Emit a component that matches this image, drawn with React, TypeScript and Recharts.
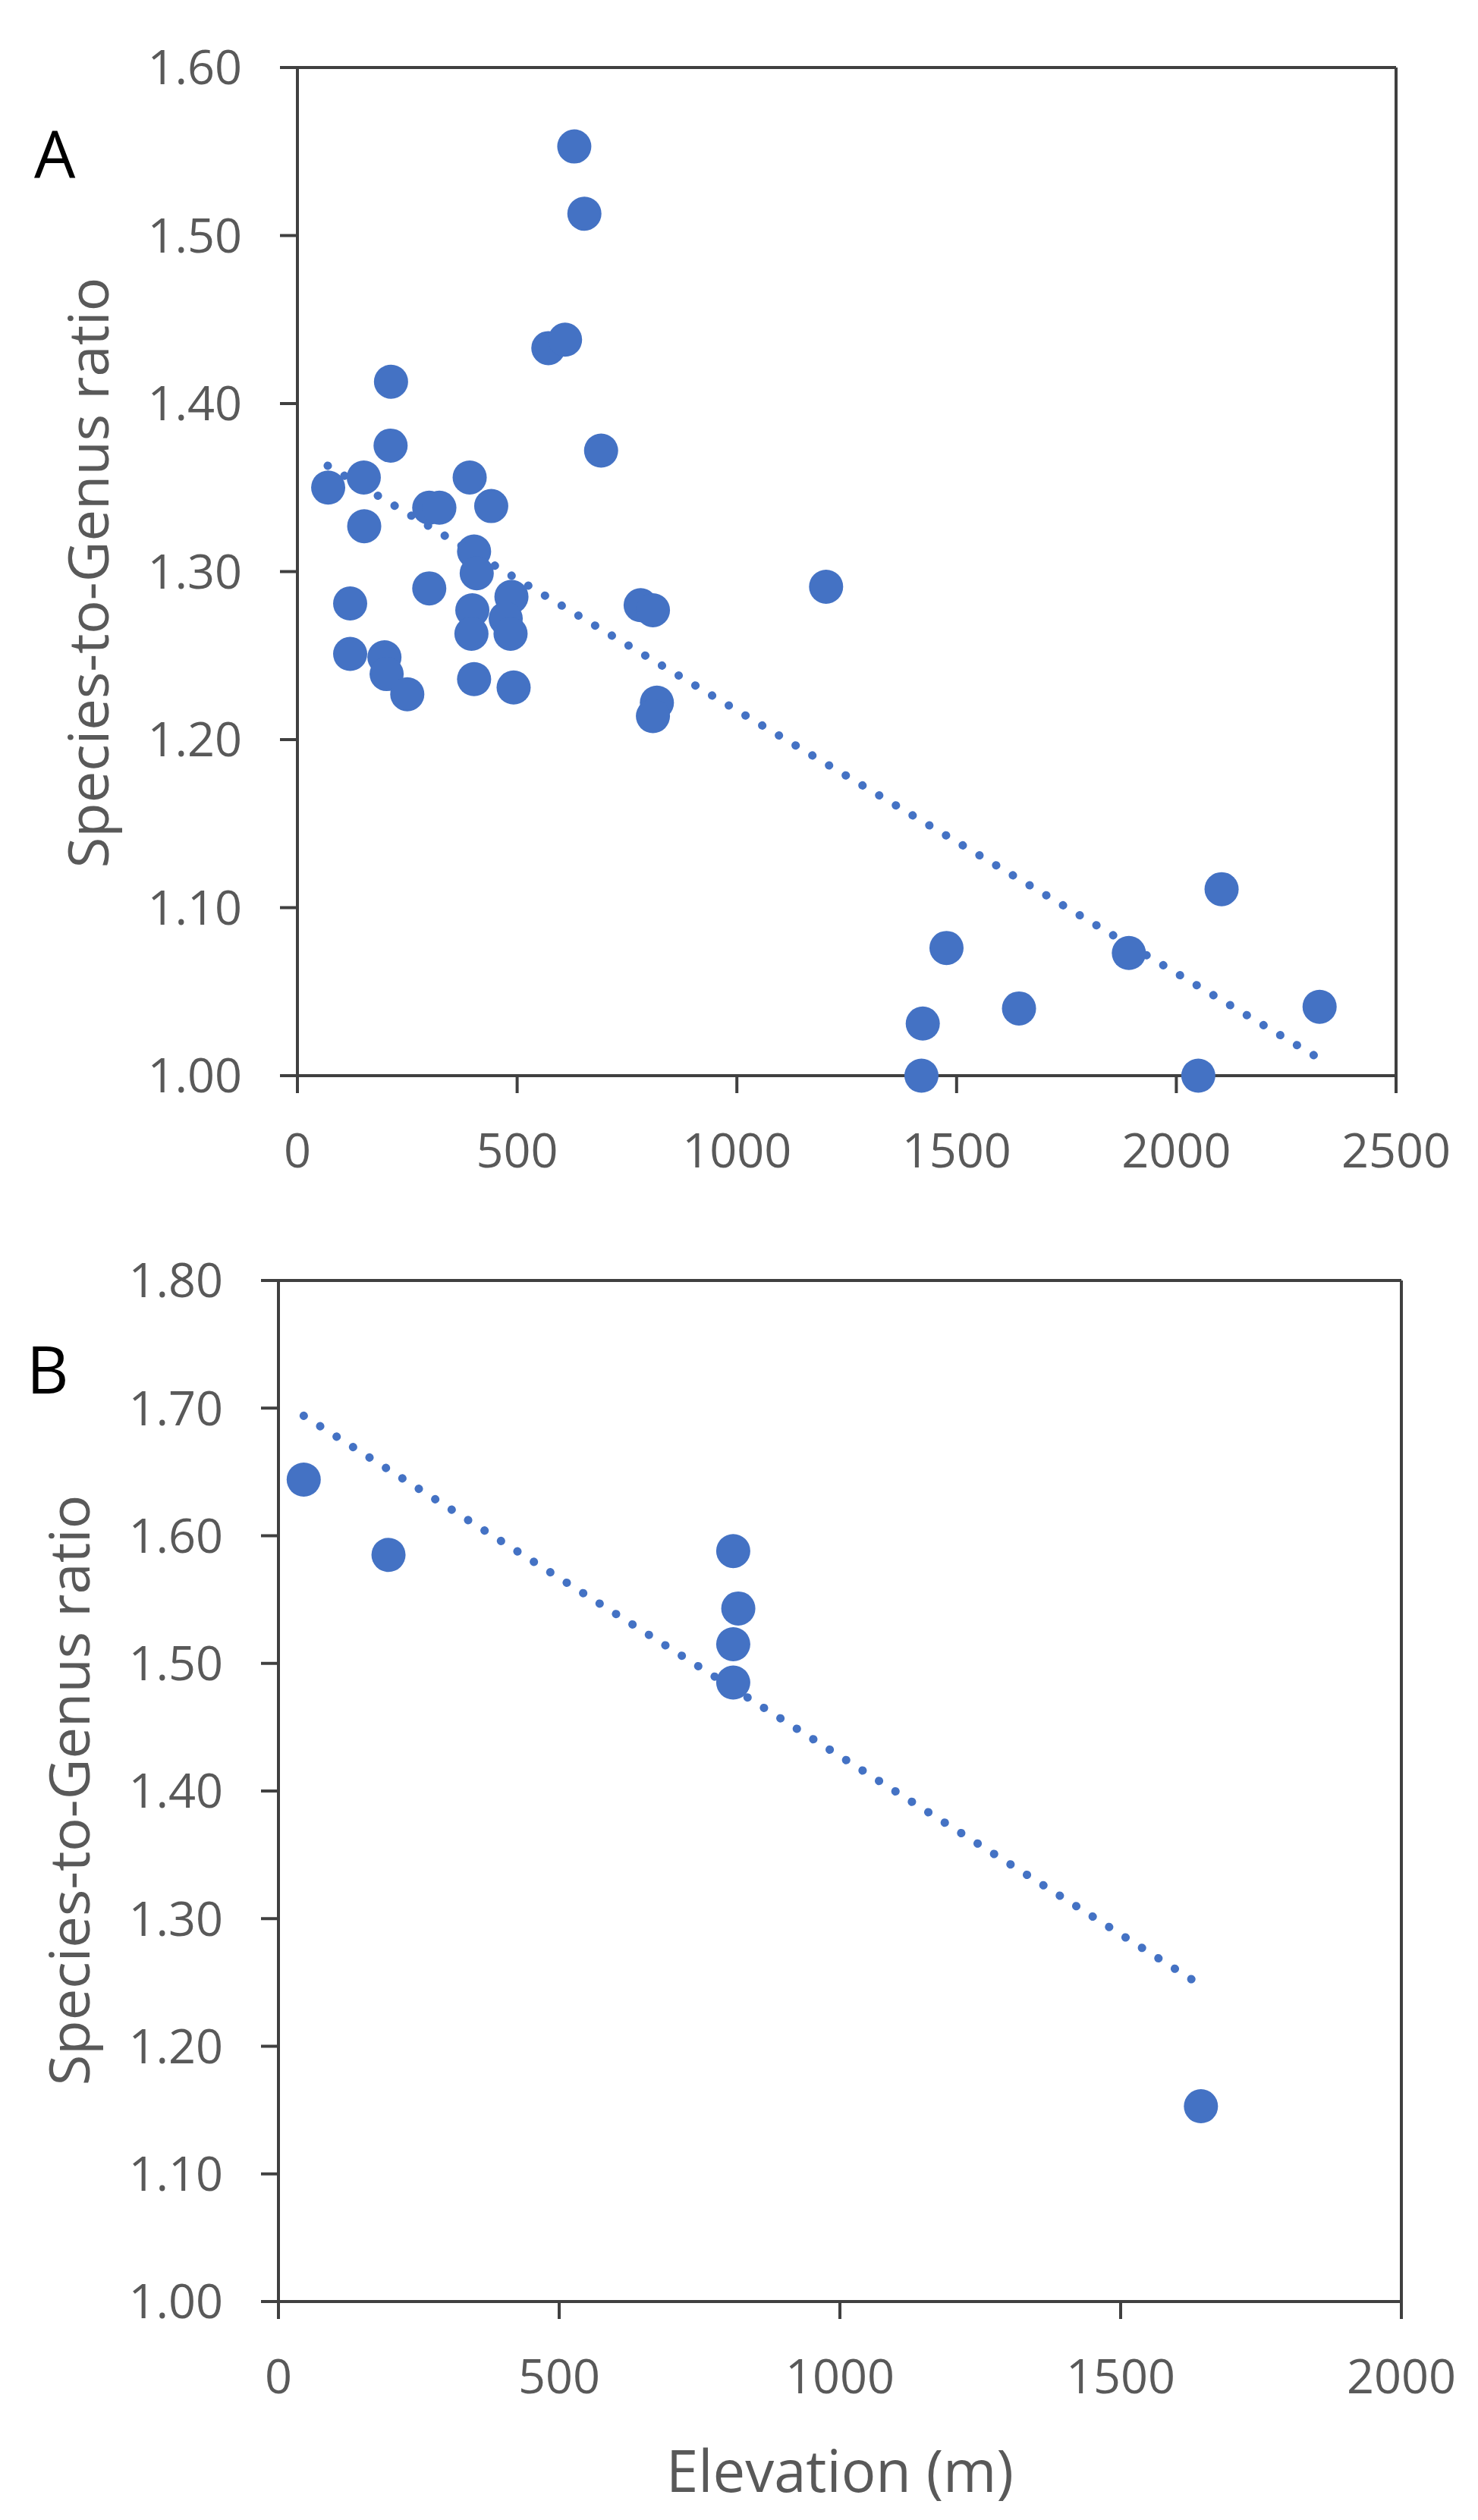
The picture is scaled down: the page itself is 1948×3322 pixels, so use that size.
import React from 'react';
import {
  ScatterChart, Scatter,
  XAxis, YAxis, ReferenceLine
} from 'recharts';

// --- Panel A: elevation vs species-to-genus ratio (all sites) ---
const aElevation = [
  70, 151, 152, 120, 120, 213, 212, 198, 203, 250,
  300, 323, 300, 392, 441, 402, 408, 398, 396, 402,
  487, 474, 485, 492, 571, 609, 630, 653, 691, 781,
  809, 818, 809, 1203, 1477, 1423, 1420, 1642, 1892, 2103,
  2050, 2326
];
const aRatio = [
  1.350, 1.356, 1.327, 1.281, 1.251, 1.413, 1.375, 1.249, 1.239, 1.227,
  1.338, 1.338, 1.290, 1.356, 1.339, 1.312, 1.299, 1.277, 1.263, 1.236,
  1.285, 1.272, 1.263, 1.231, 1.433, 1.438, 1.553, 1.513, 1.372, 1.280,
  1.277, 1.222, 1.214, 1.291, 1.076, 1.031, 1.000, 1.040, 1.073, 1.111,
  1.000, 1.041
];
const aTrendX = [69, 2314];
const aTrendY = [1.363, 1.012];
const aXTicks = [0, 500, 1000, 1500, 2000, 2500];
const aYTicks = [1.0, 1.1, 1.2, 1.3, 1.4, 1.5, 1.6];

// --- Panel B ---
const bElevation = [45, 196, 810, 819, 810, 810, 1643];
const bRatio = [1.644, 1.585, 1.588, 1.543, 1.515, 1.485, 1.153];
const bTrendX = [45, 1628];
const bTrendY = [1.694, 1.252];
const bXTicks = [0, 500, 1000, 1500, 2000];
const bYTicks = [1.0, 1.1, 1.2, 1.3, 1.4, 1.5, 1.6, 1.7, 1.8];

const toPoints = (xs: number[], ys: number[]) => xs.map((x, i) => ({ x, y: ys[i] }));

const BLUE = '#4472C4';
const AXIS = '#404040';
const TEXT = '#595959';
const FONT = 'Open Sans';

const Dot = (props: any) => <circle cx={props.cx} cy={props.cy} r={22.5} fill={BLUE} />;
const NoDot = () => <g />;

const tickStyle = { fontSize: 63, fill: TEXT, fontFamily: FONT };
// round dots, spacing picked so the last dot lands at the line end
const trendLine = { stroke: BLUE, strokeWidth: 11, strokeDasharray: '0.1 25.56', strokeLinecap: 'round' as const };

interface PanelProps {
  width: number;
  height: number;
  margin: { top: number; right: number; bottom: number; left: number };
  yWidth: number;
  points: { x: number; y: number }[];
  trend: { x: number; y: number }[];
  xTicks: number[];
  yTicks: number[];
}

const Panel: React.FC<PanelProps> = ({ width, height, margin, yWidth, points, trend, xTicks, yTicks }) => {
  const xMax = xTicks[xTicks.length - 1];
  const yMin = yTicks[0];
  const yMax = yTicks[yTicks.length - 1];
  return (
    <ScatterChart width={width} height={height} margin={margin}>
      <XAxis
        type="number" dataKey="x" domain={[0, xMax]} ticks={xTicks} interval={0}
        height={150}
        axisLine={{ stroke: AXIS, strokeWidth: 4 }}
        tickLine={{ stroke: AXIS, strokeWidth: 4 }}
        tickSize={23} tickMargin={53}
        tick={tickStyle}
      />
      <YAxis
        type="number" dataKey="y" domain={[yMin, yMax]} ticks={yTicks} interval={0}
        width={yWidth}
        axisLine={{ stroke: AXIS, strokeWidth: 4 }}
        tickLine={{ stroke: AXIS, strokeWidth: 4 }}
        tickSize={23} tickMargin={50}
        tick={tickStyle}
        tickFormatter={(v: number) => v.toFixed(2)}
      />
      {/* frame top / right */}
      <ReferenceLine y={yMax} stroke={AXIS} strokeWidth={4} />
      <ReferenceLine x={xMax} stroke={AXIS} strokeWidth={4} />
      <Scatter data={trend} shape={NoDot} line={trendLine} isAnimationActive={false} />
      <Scatter data={points} shape={Dot} isAnimationActive={false} />
    </ScatterChart>
  );
};

export default function App() {
  return (
    <div style={{ position: 'absolute', left: 0, top: 0, width: 1948, height: 3322, background: '#fff' }}>
      <div style={{ position: 'absolute', left: 0, top: 0 }}>
        <Panel
          width={1948} height={1640}
          margin={{ top: 89, right: 108, bottom: 72, left: 0 }}
          yWidth={392}
          points={toPoints(aElevation, aRatio)}
          trend={toPoints(aTrendX, aTrendY)}
          xTicks={aXTicks} yTicks={aYTicks}
        />
      </div>
      <div style={{ position: 'absolute', left: 0, top: 1640 }}>
        <Panel
          width={1948} height={1682}
          margin={{ top: 48, right: 101, bottom: 138, left: 0 }}
          yWidth={367}
          points={toPoints(bElevation, bRatio)}
          trend={toPoints(bTrendX, bTrendY)}
          xTicks={bXTicks} yTicks={bYTicks}
        />
      </div>
      {/* titles and panel letters */}
      <svg width={1948} height={3322} style={{ position: 'absolute', left: 0, top: 0, pointerEvents: 'none' }}>
        <text x={45} y={235} fontSize={86} fontFamily={FONT} fill="#000">A</text>
        <text x={35} y={1837} fontSize={86} fontFamily={FONT} fill="#000">B</text>
        <text x={143} y={755} transform="rotate(-90 143 755)" textAnchor="middle"
          fontSize={74} fontFamily={FONT} fill={TEXT}>Species-to-Genus ratio</text>
        <text x={118} y={2360} transform="rotate(-90 118 2360)" textAnchor="middle"
          fontSize={74} fontFamily={FONT} fill={TEXT}>Species-to-Genus ratio</text>
        <text x={1107} y={3285} textAnchor="middle" fontSize={76} fontFamily={FONT} fill={TEXT}>Elevation (m)</text>
      </svg>
    </div>
  );
}
